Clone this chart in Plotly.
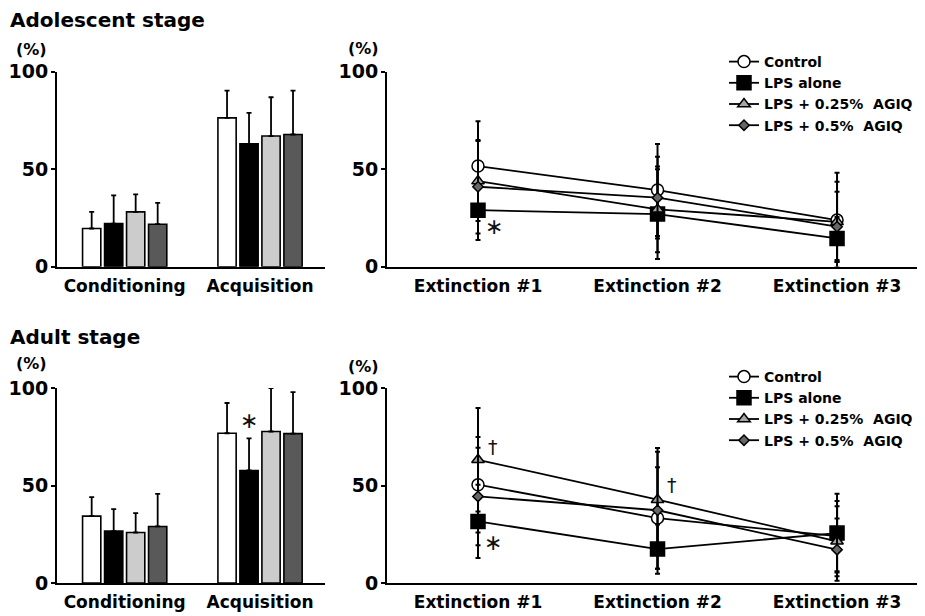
import plotly.graph_objects as go

# ---------------- data ----------------
bar_categories = ["Conditioning", "Acquisition"]
line_categories = ["Extinction #1", "Extinction #2", "Extinction #3"]
group_names = ["Control", "LPS alone", "LPS + 0.25%\u00a0 AGIQ", "LPS + 0.5%\u00a0 AGIQ"]
y_ticks = [0, 50, 100]

# Adolescent stage - bars (mean, SD)
adol_bar_control = [19.6, 76.3]
adol_bar_control_sd = [8.5, 14.0]
adol_bar_lps = [22.1, 63.0]
adol_bar_lps_sd = [14.5, 15.9]
adol_bar_low = [28.1, 67.0]
adol_bar_low_sd = [9.0, 19.9]
adol_bar_high = [21.8, 67.8]
adol_bar_high_sd = [10.9, 22.5]

# Adult stage - bars
adult_bar_control = [34.3, 76.8]
adult_bar_control_sd = [9.7, 15.5]
adult_bar_lps = [26.6, 57.7]
adult_bar_lps_sd = [11.3, 16.5]
adult_bar_low = [25.9, 77.7]
adult_bar_low_sd = [9.9, 22.2]
adult_bar_high = [29.0, 76.6]
adult_bar_high_sd = [16.7, 21.3]

# Adolescent stage - extinction
adol_ext_control = [51.6, 39.3, 23.9]
adol_ext_control_sd = [23.0, 23.6, 24.3]
adol_ext_lps = [29.0, 27.0, 14.5]
adol_ext_lps_sd = [15.3, 23.0, 11.0]
adol_ext_low = [43.9, 29.4, 23.0]
adol_ext_low_sd = [20.5, 22.0, 20.6]
adol_ext_high = [41.0, 35.4, 20.5]
adol_ext_high_sd = [24.0, 21.0, 18.0]

# Adult stage - extinction
adult_ext_control = [50.4, 33.3, 24.0]
adult_ext_control_sd = [24.5, 26.0, 18.0]
adult_ext_lps = [31.6, 17.4, 25.6]
adult_ext_lps_sd = [18.8, 12.6, 20.2]
adult_ext_low = [63.2, 42.7, 21.4]
adult_ext_low_sd = [26.5, 26.5, 18.0]
adult_ext_high = [44.4, 37.3, 17.1]
adult_ext_high_sd = [25.0, 30.0, 16.0]

# ---------------- styles ----------------
FONT = "DejaVu Sans"
bar_colors = ["#ffffff", "#000000", "#cccccc", "#595959"]
marker_styles = [
    dict(symbol="circle", size=12, color="#ffffff"),
    dict(symbol="square", size=14, color="#000000"),
    dict(symbol="triangle-up", size=11, color="#a6a6a6"),
    dict(symbol="diamond", size=8, color="#666666"),
]

fig = go.Figure()

adol_bars = [(adol_bar_control, adol_bar_control_sd), (adol_bar_lps, adol_bar_lps_sd),
             (adol_bar_low, adol_bar_low_sd), (adol_bar_high, adol_bar_high_sd)]
adult_bars = [(adult_bar_control, adult_bar_control_sd), (adult_bar_lps, adult_bar_lps_sd),
              (adult_bar_low, adult_bar_low_sd), (adult_bar_high, adult_bar_high_sd)]
adol_lines = [(adol_ext_control, adol_ext_control_sd), (adol_ext_lps, adol_ext_lps_sd),
              (adol_ext_low, adol_ext_low_sd), (adol_ext_high, adol_ext_high_sd)]
adult_lines = [(adult_ext_control, adult_ext_control_sd), (adult_ext_lps, adult_ext_lps_sd),
               (adult_ext_low, adult_ext_low_sd), (adult_ext_high, adult_ext_high_sd)]


def add_bars(data, xa, ya):
    for i, (vals, sds) in enumerate(data):
        fig.add_trace(go.Bar(
            x=bar_categories, y=vals, name=group_names[i], showlegend=False,
            marker=dict(color=bar_colors[i], line=dict(color="#000000", width=1.6)),
            error_y=dict(type="data", array=sds, symmetric=False, arrayminus=[0] * len(sds),
                         color="#000000", thickness=1.8, width=2.5),
            xaxis=xa, yaxis=ya, cliponaxis=False,
        ))


def add_lines(data, xa, ya, legend):
    for i, (vals, sds) in enumerate(data):
        ms = marker_styles[i]
        fig.add_trace(go.Scatter(
            x=line_categories, y=vals, name=group_names[i], mode="lines+markers",
            line=dict(color="#000000", width=1.8),
            marker=dict(symbol=ms["symbol"], size=ms["size"], color=ms["color"],
                        line=dict(color="#000000", width=1.5)),
            error_y=dict(type="data", array=sds, color="#000000", thickness=2, width=2.5),
            xaxis=xa, yaxis=ya, legend=legend, cliponaxis=False,
        ))


add_bars(adol_bars, "x", "y")
add_lines(adol_lines, "x2", "y2", "legend")
add_bars(adult_bars, "x3", "y3")
add_lines(adult_lines, "x4", "y4", "legend2")

W, H = 925, 616
PAGE_OFFSET = 8  # the page body offsets the figure by 8px; positions below are page pixels


def px_x(p):
    return (p - PAGE_OFFSET) / W


def px_y(p):
    return 1 - (p - PAGE_OFFSET) / H


top_dom = [px_y(266.7), px_y(71.7)]
bot_dom = [px_y(583.0), px_y(388.0)]
left_dom = [px_x(57), px_x(325)]
right_dom = [px_x(387), px_x(925)]

tickfont_y = dict(family=FONT, size=19, color="#000000", weight="bold")
tickfont_x = dict(family=FONT, size=17, color="#000000", weight="bold")

xcommon = dict(showline=True, linecolor="#000000", linewidth=2, ticks="", showgrid=False,
               zeroline=False, tickfont=tickfont_x, ticklabelstandoff=3, fixedrange=True,
               automargin=False)
ycommon = dict(showline=True, linecolor="#000000", linewidth=2, ticks="outside", ticklen=4,
               tickwidth=2, tickcolor="#000000", showgrid=False, zeroline=False,
               tickvals=y_ticks, ticktext=[str(v) for v in y_ticks], tickfont=tickfont_y,
               ticklabelstandoff=-1, range=[0, 100], fixedrange=True, automargin=False)

legend_font = dict(family=FONT, size=14, color="#000000", weight="bold")

fig.update_layout(
    width=W, height=H, margin=dict(l=0, r=0, t=0, b=0, pad=0, autoexpand=False),
    paper_bgcolor="#ffffff", plot_bgcolor="#ffffff",
    barmode="group", bargap=0.35, bargroupgap=0.17,
    xaxis=dict(domain=left_dom, anchor="y", range=[-0.5, 1.48], **xcommon),
    yaxis=dict(domain=top_dom, anchor="x", **ycommon),
    xaxis2=dict(domain=right_dom, anchor="y2", range=[-0.507, 2.49], **xcommon),
    yaxis2=dict(domain=top_dom, anchor="x2", **ycommon),
    xaxis3=dict(domain=left_dom, anchor="y3", range=[-0.5, 1.48], **xcommon),
    yaxis3=dict(domain=bot_dom, anchor="x3", **ycommon),
    xaxis4=dict(domain=right_dom, anchor="y4", range=[-0.507, 2.49], **xcommon),
    yaxis4=dict(domain=bot_dom, anchor="x4", **ycommon),
    legend=dict(x=px_x(724), y=px_y(46), xanchor="left", yanchor="top",
                font=legend_font, itemwidth=30, bgcolor="rgba(0,0,0,0)", tracegroupgap=0),
    legend2=dict(x=px_x(724), y=px_y(361), xanchor="left", yanchor="top",
                 font=legend_font, itemwidth=30, bgcolor="rgba(0,0,0,0)", tracegroupgap=0),
    showlegend=True,
)

title_font = dict(family=FONT, size=20, color="#000000", weight="bold")
pct_font = dict(family=FONT, size=16, color="#000000", weight="bold")
ann = []
ann.append(dict(text="Adolescent stage", x=px_x(8), y=px_y(20), xref="paper", yref="paper",
                xanchor="left", yanchor="middle", showarrow=False, font=title_font))
ann.append(dict(text="Adult stage", x=px_x(8), y=px_y(337), xref="paper", yref="paper",
                xanchor="left", yanchor="middle", showarrow=False, font=title_font))
for (cx, cy) in [(31, 50), (363, 48), (31, 363), (363, 366)]:
    ann.append(dict(text="(%)", x=px_x(cx), y=px_y(cy), xref="paper", yref="paper",
                    xanchor="center", yanchor="middle", showarrow=False, font=pct_font))

mark_font = dict(family=FONT, size=22, color="#111111")
dag_font = dict(family=FONT, size=19, color="#111111")
ann.append(dict(text="∗", x=line_categories[0], y=20.4, xref="x2", yref="y2", xshift=16,
                showarrow=False, font=mark_font))
ann.append(dict(text="∗", x=line_categories[0], y=20.7, xref="x4", yref="y4", xshift=15,
                showarrow=False, font=mark_font))
ann.append(dict(text="∗", x=bar_categories[1], y=83.3, xref="x3", yref="y3", xshift=-11,
                showarrow=False, font=mark_font))
ann.append(dict(text="†", x=line_categories[0], y=69.9, xref="x4", yref="y4", xshift=15,
                showarrow=False, font=dag_font))
ann.append(dict(text="†", x=line_categories[1], y=50.4, xref="x4", yref="y4", xshift=14.5,
                showarrow=False, font=dag_font))
fig.update_layout(annotations=ann)

fig.write_html("out.html")
